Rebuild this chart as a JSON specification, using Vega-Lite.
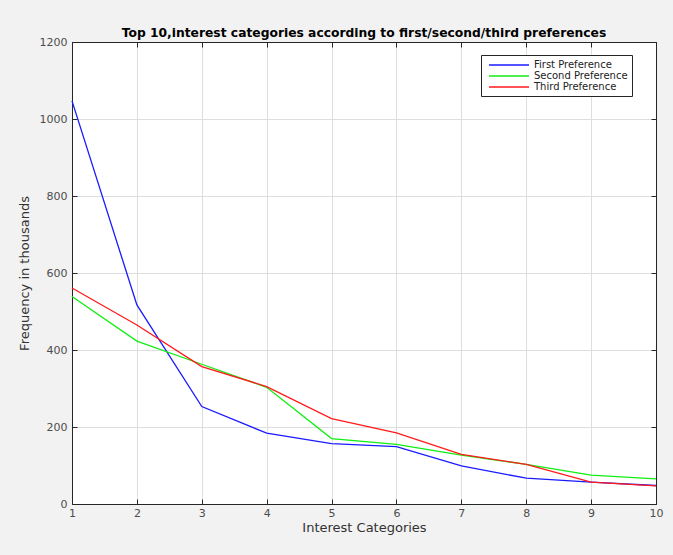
{
  "$schema": "https://vega.github.io/schema/vega-lite/v6.json",
  "width": 584,
  "height": 462,
  "autosize": {"type": "none"},
  "padding": {"left": 72, "top": 42, "right": 17, "bottom": 51},
  "background": "#f2f2f2",
  "config": {
    "view": {"fill": "white", "stroke": "#262626", "strokeWidth": 1},
    "font": "DejaVu Sans"
  },
  "title": {
    "text": "Top 10,interest categories according to first/second/third preferences",
    "fontSize": 12.3,
    "fontWeight": "bold",
    "color": "black",
    "font": "DejaVu Sans",
    "offset": -3
  },
  "data": {
    "values": [
      {"cat": 1, "pref": "First Preference", "value": 1047},
      {"cat": 2, "pref": "First Preference", "value": 517},
      {"cat": 3, "pref": "First Preference", "value": 253},
      {"cat": 4, "pref": "First Preference", "value": 184},
      {"cat": 5, "pref": "First Preference", "value": 157},
      {"cat": 6, "pref": "First Preference", "value": 149},
      {"cat": 7, "pref": "First Preference", "value": 99},
      {"cat": 8, "pref": "First Preference", "value": 67},
      {"cat": 9, "pref": "First Preference", "value": 57},
      {"cat": 10, "pref": "First Preference", "value": 48},
      {"cat": 1, "pref": "Second Preference", "value": 539},
      {"cat": 2, "pref": "Second Preference", "value": 423},
      {"cat": 3, "pref": "Second Preference", "value": 363},
      {"cat": 4, "pref": "Second Preference", "value": 303},
      {"cat": 5, "pref": "Second Preference", "value": 170},
      {"cat": 6, "pref": "Second Preference", "value": 155},
      {"cat": 7, "pref": "Second Preference", "value": 127},
      {"cat": 8, "pref": "Second Preference", "value": 103},
      {"cat": 9, "pref": "Second Preference", "value": 75},
      {"cat": 10, "pref": "Second Preference", "value": 65},
      {"cat": 1, "pref": "Third Preference", "value": 561},
      {"cat": 2, "pref": "Third Preference", "value": 465},
      {"cat": 3, "pref": "Third Preference", "value": 357},
      {"cat": 4, "pref": "Third Preference", "value": 305},
      {"cat": 5, "pref": "Third Preference", "value": 222},
      {"cat": 6, "pref": "Third Preference", "value": 185},
      {"cat": 7, "pref": "Third Preference", "value": 129},
      {"cat": 8, "pref": "Third Preference", "value": 103},
      {"cat": 9, "pref": "Third Preference", "value": 57},
      {"cat": 10, "pref": "Third Preference", "value": 47}
    ]
  },
  "layer": [
    {
      "mark": {"type": "line", "strokeWidth": 1.3},
      "encoding": {
        "x": {
          "field": "cat",
          "type": "quantitative",
          "scale": {"domain": [1, 10], "nice": false},
          "axis": {
            "title": "Interest Categories",
            "values": [1, 2, 3, 4, 5, 6, 7, 8, 9, 10],
            "labelFlush": false,
            "tickSize": -5,
            "labelPadding": 8,
            "grid": true,
            "gridColor": "#dedede",
            "domainColor": "#262626",
            "tickColor": "#262626",
            "labelColor": "#4d4d4d",
            "labelFontSize": 11,
            "titleFontSize": 13,
            "titleFontWeight": "normal",
            "titleColor": "#333333",
            "titlePadding": 3
          }
        },
        "y": {
          "field": "value",
          "type": "quantitative",
          "scale": {"domain": [0, 1200], "nice": false},
          "axis": {
            "title": "Frequency in thousands",
            "values": [0, 200, 400, 600, 800, 1000, 1200],
            "format": "d",
            "tickSize": -5,
            "labelPadding": 10,
            "grid": true,
            "gridColor": "#dedede",
            "domainColor": "#262626",
            "tickColor": "#262626",
            "labelColor": "#4d4d4d",
            "labelFontSize": 11,
            "titleFontSize": 13,
            "titleFontWeight": "normal",
            "titleColor": "#333333",
            "titlePadding": 8
          }
        },
        "color": {
          "field": "pref",
          "type": "nominal",
          "scale": {
            "domain": ["First Preference", "Second Preference", "Third Preference"],
            "range": ["#1a1aff", "#11ee11", "#ff1a1a"]
          },
          "legend": {
            "title": null,
            "orient": "none",
            "legendX": 409,
            "legendY": 13,
            "fillColor": "white",
            "strokeColor": "#262626",
            "padding": 4,
            "symbolType": "M-4,0H4",
            "symbolSize": 100,
            "symbolOffset": 18,
            "symbolStrokeWidth": 1.5,
            "labelFontSize": 10,
            "labelColor": "#222222",
            "rowPadding": 0,
            "labelOffset": 19
          }
        }
      }
    },
    {
      "mark": {"type": "line", "opacity": 0},
      "encoding": {
        "detail": {"field": "pref"},
        "x": {
          "field": "cat",
          "type": "quantitative",
          "axis": {
            "orient": "top",
            "title": null,
            "labels": false,
            "grid": false,
            "values": [1, 2, 3, 4, 5, 6, 7, 8, 9, 10],
            "tickSize": -5,
            "domainColor": "#262626",
            "tickColor": "#262626"
          }
        },
        "y": {
          "field": "value",
          "type": "quantitative",
          "axis": {
            "orient": "right",
            "title": null,
            "labels": false,
            "grid": false,
            "values": [0, 200, 400, 600, 800, 1000, 1200],
            "tickSize": -5,
            "domainColor": "#262626",
            "tickColor": "#262626"
          }
        }
      }
    }
  ],
  "resolve": {"axis": {"x": "independent", "y": "independent"}}
}
